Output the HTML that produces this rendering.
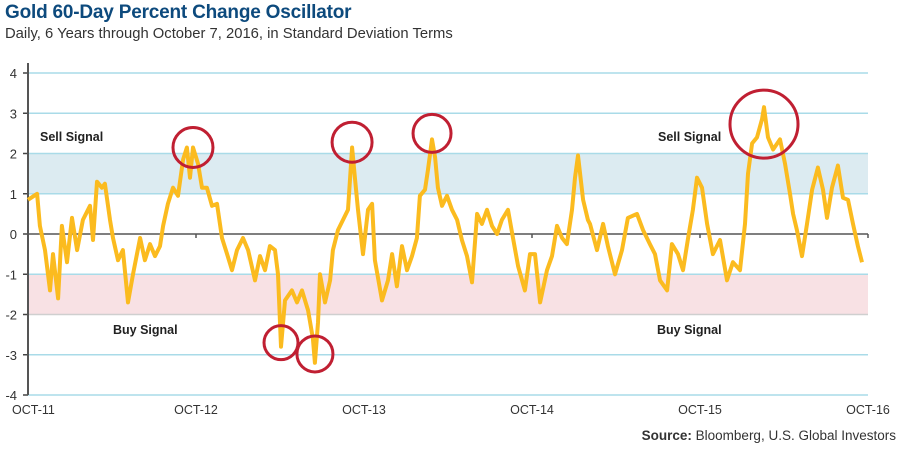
<!DOCTYPE html>
<html><head><meta charset="utf-8"><style>
body{margin:0;background:#fff;width:900px;height:450px;overflow:hidden;font-family:"Liberation Sans",sans-serif}
#t{position:absolute;left:5px;top:2px;font-size:19px;font-weight:bold;color:#0d4a7d;letter-spacing:-0.2px}
#s{position:absolute;left:5px;top:26px;font-size:14.8px;color:#333}
#src{position:absolute;right:4px;top:428px;font-size:13.5px;color:#333}
svg{position:absolute;left:0;top:0}
</style></head><body>
<div id="t">Gold 60-Day Percent Change Oscillator</div>
<div id="s">Daily, 6 Years through October 7, 2016, in Standard Deviation Terms</div>
<div id="src"><b>Source:</b> Bloomberg, U.S. Global Investors</div>
<svg id="c" width="900" height="450"></svg>
<script>
const yearsSinceOct11=[0,.054,.071,.101,.131,.149,.179,.202,.232,.262,.292,.327,.369,.387,.411,.440,.458,.488,.506,.536,.565,.595,.625,.667,.696,.726,.756,.786,.804,.833,.863,.893,.923,.946,.964,.982,1.012,1.036,1.065,1.095,1.125,1.155,1.185,1.214,1.244,1.280,1.310,1.351,1.381,1.411,1.440,1.470,1.488,1.506,1.530,1.571,1.601,1.631,1.667,1.696,1.708,1.726,1.738,1.768,1.798,1.815,1.845,1.875,1.905,1.929,1.946,1.964,1.994,2.024,2.048,2.065,2.107,2.143,2.167,2.196,2.226,2.256,2.286,2.315,2.333,2.363,2.381,2.405,2.423,2.440,2.464,2.494,2.524,2.554,2.583,2.613,2.643,2.673,2.702,2.732,2.762,2.792,2.821,2.857,2.887,2.917,2.958,2.988,3.018,3.048,3.089,3.119,3.149,3.179,3.208,3.238,3.256,3.274,3.304,3.333,3.345,3.387,3.423,3.452,3.494,3.536,3.571,3.625,3.661,3.702,3.732,3.762,3.804,3.833,3.869,3.899,3.929,3.958,3.982,4.012,4.042,4.077,4.119,4.161,4.196,4.238,4.268,4.286,4.310,4.339,4.369,4.381,4.405,4.435,4.476,4.506,4.536,4.554,4.577,4.607,4.637,4.667,4.702,4.732,4.756,4.786,4.821,4.851,4.881,4.911,4.940,4.964];
const oscillator=[.85,1.0,.2,-.4,-1.4,-.5,-1.6,.2,-.7,.4,-.4,.35,.7,-.15,1.3,1.15,1.25,.35,-.1,-.65,-.4,-1.7,-1.0,-.1,-.65,-.25,-.55,-.3,.2,.75,1.15,.95,1.85,2.15,1.4,2.15,1.75,1.15,1.15,.7,.75,-.1,-.5,-.9,-.4,-.1,-.4,-1.15,-.55,-.9,-.3,-.4,-1.0,-2.8,-1.65,-1.4,-1.7,-1.4,-1.9,-2.6,-3.2,-2.2,-1.0,-1.7,-1.15,-.4,.1,.35,.6,2.15,1.4,.6,-.5,.6,.75,-.65,-1.65,-1.15,-.5,-1.3,-.3,-.9,-.55,-.1,.95,1.1,1.6,2.35,1.9,1.15,.7,.95,.6,.35,-.15,-.55,-1.2,.5,.25,.6,.2,0,.35,.6,-.1,-.8,-1.4,-.5,-.5,-1.7,-.9,-.55,.2,-.1,-.25,.6,1.4,1.95,.85,.35,.25,-.4,.25,-.3,-1.0,-.4,.4,.5,.1,-.25,-.5,-1.15,-1.4,-.25,-.5,-.9,-.1,.6,1.4,1.15,.25,-.5,-.15,-1.15,-.7,-.9,.25,1.5,2.25,2.4,2.85,3.15,2.4,2.1,2.35,1.75,1.0,.5,.1,-.55,.25,1.1,1.65,1.1,.4,1.15,1.7,.9,.85,.25,-.3,-.7];
const yTicks=[4,3,2,1,0,-1,-2,-3,-4];
const xTickLabels=["OCT-11","OCT-12","OCT-13","OCT-14","OCT-15","OCT-16"];
const circleT=[.982,1.506,1.708,1.929,2.405,4.381];
const circleV=[2.15,-2.7,-2.98,2.28,2.5,2.73];
const circleR=[20,17,18,20,19,34];

const NS="http://www.w3.org/2000/svg",svg=document.getElementById('c');
const X0=28,X1=868,Y0=234,UNIT=40.25;
const xs=t=>X0+t*(X1-X0)/5;
const ys=v=>Y0-v*UNIT;
function mk(tag,attrs,parent){const e=document.createElementNS(NS,tag);for(const k in attrs)e.setAttribute(k,attrs[k]);(parent||svg).appendChild(e);return e;}
let e;
e=mk('rect',{x:X0,y:ys(2),width:X1-X0,height:ys(1)-ys(2),fill:'#dcebf1'});


e=mk('rect',{x:X0,y:ys(-1),width:X1-X0,height:ys(-2)-ys(-1),fill:'#f8e1e4'});


yTicks.forEach(v=>{
  if(v!==0){e=mk('line',{x1:X0,x2:X1,y1:ys(v),y2:ys(v),stroke:v===-2?'#cfcfcf':'#a9dbe8','stroke-width':1.5});
  
  }
  mk('line',{x1:X0-5,x2:X0,y1:ys(v),y2:ys(v),stroke:'#444','stroke-width':1.5});
  e=mk('text',{x:17,y:ys(v)+5,'text-anchor':'end','font-size':13,fill:'#333'});e.textContent=v;
  
  
});
e=mk('line',{x1:X0,x2:X1,y1:ys(0),y2:ys(0),stroke:'#555','stroke-width':1.5});


for(let q=1;q<=20;q++){if(q%4===0)mk('line',{x1:xs(q/4),x2:xs(q/4),y1:ys(0),y2:ys(0)+4,stroke:'#555','stroke-width':1.5});}
e=mk('line',{x1:X0,x2:X0,y1:63,y2:ys(-4),stroke:'#555','stroke-width':2});


xTickLabels.forEach((l,i)=>{e=mk('text',{x:i===0?X0-16:xs(i),y:414,'text-anchor':i===0?'start':'middle','font-size':12.5,fill:'#333'});e.textContent=l;
  
  });
[[40,141,'Sell Signal'],[658,141,'Sell Signal'],[113,334,'Buy Signal'],[657,334,'Buy Signal']].forEach(a=>{
  e=mk('text',{x:a[0],y:a[1],'font-size':12.5,'font-weight':'bold',fill:'#222'});e.textContent=a[2];
  
  });
const pts=yearsSinceOct11.map((t,i)=>xs(t).toFixed(1)+','+ys(oscillator[i]).toFixed(1)).join(' ');
e=mk('polyline',{points:pts,fill:'none',stroke:'#fbbb1f','stroke-width':4,'stroke-linejoin':'round'});


circleT.forEach((t,i)=>{e=mk('circle',{cx:xs(t),cy:ys(circleV[i]),r:circleR[i],fill:'none',stroke:'#c01f32','stroke-width':3});
  
  });
</script>
</body></html>
